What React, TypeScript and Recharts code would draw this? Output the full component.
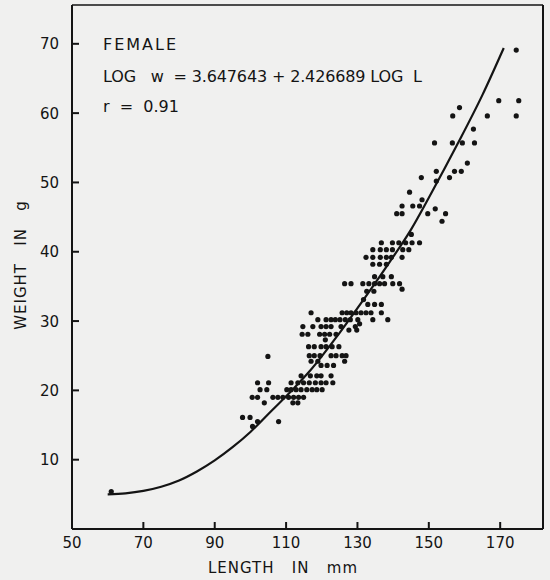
import React from 'react';
import { ComposedChart, Scatter, Line, XAxis, YAxis, ReferenceLine } from 'recharts';

// Fitted curve
const curveLength = [60, 65, 70, 75, 80, 85, 90, 95, 100, 106, 112, 117, 125, 132, 139, 145, 150, 158, 165, 171];
const curveWeight = [5.0, 5.15, 5.5, 6.1, 7.0, 8.3, 9.9, 11.8, 14.0, 17.1, 20.2, 23.0, 28.3, 33.3, 38.5, 43.2, 47.8, 55.5, 62.6, 69.4];

// Individual female specimens (length mm, weight g)
const femaleLength = [
  61.0,
  100.6,
  102.0, 107.9,
  97.8, 99.9,
  103.9, 111.9, 113.3,
  100.5, 102.0, 106.3, 107.7, 109.1, 110.7, 112.1, 113.5, 114.9,
  102.7, 104.6, 110.2, 111.4, 112.8, 114.2, 115.8, 117.3, 118.6, 120.1,
  102.0, 105.1, 111.4, 113.3, 114.9, 116.5, 118.2, 119.8, 121.2, 123.1,
  114.2, 116.8, 118.6, 119.8, 122.6,
  119.8, 121.5, 123.3,
  117.0, 118.9, 126.4,
  104.9,
  116.5, 117.9, 119.5, 122.6, 124.0, 125.7, 126.8,
  116.3, 117.9, 119.8, 121.2, 122.9, 124.8,
  121.0,
  114.5, 116.1, 119.4, 120.8, 122.2, 124.0,
  127.6, 129.8,
  114.7, 117.5, 119.8, 121.2, 122.6, 125.4, 129.4,
  130.6,
  118.9, 121.2, 122.6, 123.8, 125.1, 126.6, 128.0, 130.1, 134.3, 138.5,
  117.0, 125.7, 127.0, 128.2, 129.6, 131.0, 132.4, 133.8, 136.7,
  132.9, 134.8, 136.7,
  131.7,
  132.6, 134.6,
  142.5,
  126.4, 128.2, 131.5, 133.2, 134.8, 136.2, 137.6, 139.9, 141.8,
  134.8, 137.1, 139.5,
  134.3, 136.2, 138.1,
  132.4, 134.3, 136.4, 138.1, 139.5, 142.5,
  134.3, 136.4, 138.1, 139.8, 142.7, 144.4,
  136.7, 139.8, 141.6, 143.5, 145.3, 147.4,
  145.1,
  153.7,
  141.0, 142.5, 149.7, 154.7,
  151.8,
  142.5, 145.5, 147.4,
  148.1,
  144.6,
  152.1,
  147.9, 155.8,
  152.1, 157.2, 159.1,
  160.8,
  151.6, 156.6, 159.4, 162.8,
  162.5,
  156.7, 166.4, 174.5,
  158.6,
  169.6, 175.2,
  174.5,
];
const femaleWeight = [
  5.4,
  14.8,
  15.5, 15.5,
  16.1, 16.1,
  18.2, 18.2, 18.2,
  19.0, 19.0, 19.0, 19.0, 19.0, 19.0, 19.0, 19.0, 19.0,
  20.1, 20.1, 20.1, 20.1, 20.1, 20.1, 20.1, 20.1, 20.1, 20.1,
  21.1, 21.1, 21.1, 21.1, 21.1, 21.1, 21.1, 21.1, 21.1, 21.1,
  22.1, 22.1, 22.1, 22.1, 22.1,
  23.6, 23.6, 23.6,
  24.2, 24.2, 24.2,
  24.9,
  25.0, 25.0, 25.0, 25.0, 25.0, 25.0, 25.0,
  26.3, 26.3, 26.3, 26.3, 26.3, 26.3,
  27.3,
  28.1, 28.1, 28.1, 28.1, 28.1, 28.1,
  28.7, 28.7,
  29.2, 29.2, 29.2, 29.2, 29.2, 29.2, 29.2,
  29.6,
  30.2, 30.2, 30.2, 30.2, 30.2, 30.2, 30.2, 30.2, 30.2, 30.2,
  31.2, 31.2, 31.2, 31.2, 31.2, 31.2, 31.2, 31.2, 31.2,
  32.4, 32.4, 32.4,
  33.1,
  34.3, 34.3,
  34.6,
  35.4, 35.4, 35.4, 35.4, 35.4, 35.4, 35.4, 35.4, 35.4,
  36.4, 36.4, 36.4,
  38.2, 38.2, 38.2,
  39.2, 39.2, 39.2, 39.2, 39.2, 39.2,
  40.3, 40.3, 40.3, 40.3, 40.3, 40.3,
  41.3, 41.3, 41.3, 41.3, 41.3, 41.3,
  42.5,
  44.4,
  45.5, 45.5, 45.5, 45.5,
  46.2,
  46.6, 46.6, 46.6,
  47.5,
  48.6,
  50.2,
  50.7, 50.7,
  51.6, 51.6, 51.6,
  52.8,
  55.7, 55.7, 55.7, 55.7,
  57.7,
  59.6, 59.6, 59.6,
  60.8,
  61.8, 61.8,
  69.1,
];

const xTicks = [50, 70, 90, 110, 130, 150, 170];
const yTicks = [10, 20, 30, 40, 50, 60, 70];

const curveData = curveLength.map((L, i) => ({ L, w: curveWeight[i] }));
const dotData = femaleLength.map((L, i) => ({ L, w: femaleWeight[i] }));

const INK = '#141414';
const FONT = '"DejaVu Sans", sans-serif';

const XTick = (props: any) => {
  const { x, y, payload } = props;
  return (
    <g>
      <line x1={x} y1={y} x2={x} y2={y - 7} stroke={INK} strokeWidth={2} />
      <text x={x} y={y + 19} textAnchor="middle" fontSize={15} fill={INK} fontFamily={FONT}>
        {payload.value}
      </text>
    </g>
  );
};

const YTick = (props: any) => {
  const { x, y, payload } = props;
  return (
    <g>
      <line x1={x} y1={y} x2={x + 7} y2={y} stroke={INK} strokeWidth={2} />
      <text x={x - 13} y={y + 5.5} textAnchor="end" fontSize={15} fill={INK} fontFamily={FONT}>
        {payload.value}
      </text>
    </g>
  );
};

const Dot = (props: any) => {
  const { cx, cy } = props;
  if (cx == null || cy == null) return null;
  return <circle cx={cx} cy={cy} r={2.6} fill={INK} />;
};

export default function App() {
  return (
    <div style={{ position: 'fixed', left: 0, top: 0, width: 550, height: 580, background: '#f0f0ef' }}>
      <ComposedChart
        width={550}
        height={580}
        margin={{ top: 5, right: 7, left: 0, bottom: 0 }}
        style={{ position: 'absolute', left: 0, top: 0 }}
      >
        <XAxis
          type="number"
          dataKey="L"
          domain={[50, 182]}
          ticks={xTicks}
          allowDataOverflow
          height={51}
          tickSize={0}
          tickMargin={0}
          tickLine={false}
          axisLine={{ stroke: INK, strokeWidth: 2 }}
          tick={<XTick />}
          interval={0}
        />
        <YAxis
          type="number"
          dataKey="w"
          domain={[0, 75.6]}
          ticks={yTicks}
          allowDataOverflow
          width={72}
          tickSize={0}
          tickMargin={0}
          tickLine={false}
          axisLine={{ stroke: INK, strokeWidth: 2 }}
          tick={<YTick />}
          interval={0}
        />
        <ReferenceLine x={182} stroke={INK} strokeWidth={2} />
        <ReferenceLine y={75.6} stroke={INK} strokeWidth={1.5} />
        <Scatter data={dotData} dataKey="w" shape={<Dot />} isAnimationActive={false} />
        <Line
          data={curveData}
          dataKey="w"
          type="monotone"
          dot={false}
          stroke={INK}
          strokeWidth={2.2}
          isAnimationActive={false}
        />
      </ComposedChart>
      <svg width={550} height={580} style={{ position: 'absolute', left: 0, top: 0, pointerEvents: 'none' }}>
        <g fontFamily={FONT} fill={INK} fontSize={16}>
          <text x={103} y={50} letterSpacing={2}>FEMALE</text>
          <text x={103} y={82} textLength={319} lengthAdjust="spacing" style={{ whiteSpace: 'pre' }}>
            {'LOG   w  = 3.647643 + 2.426689 LOG  L'}
          </text>
          <text x={103} y={112} style={{ whiteSpace: 'pre' }}>
            {'r  =  0.91'}
          </text>
          <text x={283} y={573} textAnchor="middle" fontSize={15} style={{ whiteSpace: 'pre' }} letterSpacing={1}>
            {'LENGTH   IN   mm'}
          </text>
          <text
            x={26}
            y={265}
            textAnchor="middle"
            fontSize={15}
            transform="rotate(-90 26 265)"
            style={{ whiteSpace: 'pre' }}
            letterSpacing={1}
          >
            {'WEIGHT   IN   g'}
          </text>
        </g>
      </svg>
    </div>
  );
}
